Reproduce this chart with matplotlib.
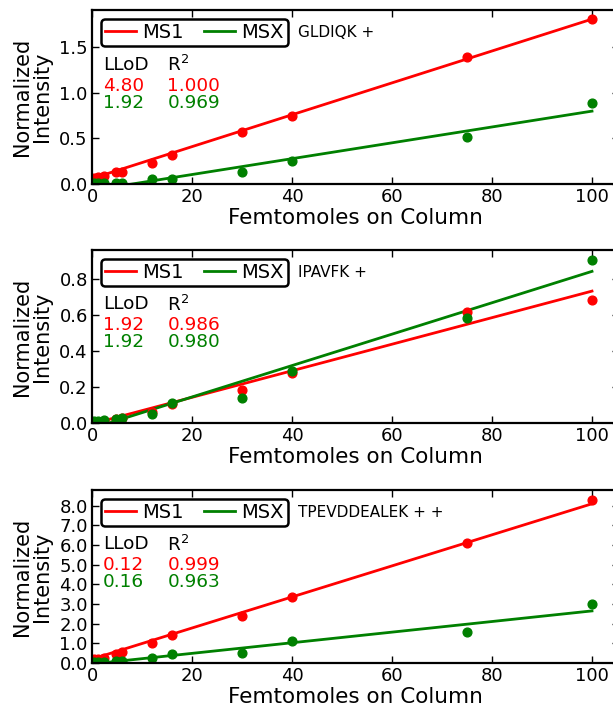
import matplotlib
matplotlib.use("Agg")
import matplotlib.pyplot as plt
import numpy as np

# ---- data ----
femtomoles = [0.48, 1.2, 2.4, 4.8, 6.0, 12, 16, 30, 40, 75, 100]

peptides = ["GLDIQK +", "IPAVFK +", "TPEVDDEALEK + +"]

ms1_gldiqk = [0.07, 0.075, 0.085, 0.13, 0.13, 0.23, 0.32, 0.57, 0.75, 1.39, 1.81]
msx_gldiqk = [0.01, 0.01, 0.01, 0.015, 0.015, 0.055, 0.05, 0.13, 0.25, 0.52, 0.89]

ms1_ipavfk = [0.005, 0.008, 0.012, 0.02, 0.03, 0.06, 0.105, 0.185, 0.28, 0.62, 0.685]
msx_ipavfk = [0.01, 0.01, 0.015, 0.02, 0.03, 0.05, 0.11, 0.14, 0.29, 0.585, 0.91]

ms1_tpev = [0.2, 0.22, 0.27, 0.45, 0.55, 1.0, 1.42, 2.4, 3.37, 6.08, 8.3]
msx_tpev = [0.05, 0.05, 0.06, 0.1, 0.12, 0.25, 0.45, 0.5, 1.12, 1.6, 3.0]

# linear fits: (slope, intercept)
fit_ms1 = [(0.0175, 0.06), (0.0074, -0.005), (0.079, 0.2)]
fit_msx = [(0.0087, -0.07), (0.00875, -0.03), (0.027, -0.05)]

lllod_ms1 = ["4.80", "1.92", "0.12"]
lllod_msx = ["1.92", "1.92", "0.16"]
r2_ms1 = ["1.000", "0.986", "0.999"]
r2_msx = ["0.969", "0.980", "0.963"]

ylims = [1.91, 0.964, 8.8]
yticks = [[0.0, 0.5, 1.0, 1.5],
          [0.0, 0.2, 0.4, 0.6, 0.8],
          [0.0, 1.0, 2.0, 3.0, 4.0, 5.0, 6.0, 7.0, 8.0]]
xticks = [0, 20, 40, 60, 80, 100]

ms1_series = [ms1_gldiqk, ms1_ipavfk, ms1_tpev]
msx_series = [msx_gldiqk, msx_ipavfk, msx_tpev]

RED = "#ff0000"
GREEN = "#008000"

W, H = 613, 707
fig = plt.figure(figsize=(W / 100, H / 100), dpi=100)

left = 92 / W
xmax = 105.4
right_px = 92 + 5 * xmax
width = (right_px - 92) / W
tops = [10, 250, 490]
bottoms = [184, 423, 663]

tfs = 13      # tick labels
afs = 13.3    # annotation
lfs = 14      # legend
for i in range(3):
    ax = fig.add_axes([left, 1 - bottoms[i] / H, width, (bottoms[i] - tops[i]) / H])
    x = np.array(femtomoles)
    xl = np.array([0, 100])
    s, b = fit_ms1[i]
    l1, = ax.plot(xl, s * xl + b, color=RED, lw=2, label="MS1")
    s, b = fit_msx[i]
    l2, = ax.plot(xl, s * xl + b, color=GREEN, lw=2, label="MSX")
    ax.plot(x, ms1_series[i], "o", color=RED, mec=RED, ms=6.3)
    ax.plot(x, msx_series[i], "o", color=GREEN, mec=GREEN, ms=6.3)

    ax.set_xlim(0, xmax)
    ax.set_ylim(0, ylims[i])
    ax.set_xticks(xticks)
    ax.set_xticklabels([str(t) for t in xticks])
    ax.set_yticks(yticks[i])
    ax.set_yticklabels(["%.1f" % t for t in yticks[i]])
    ax.tick_params(direction="in", top=True, right=True, length=5, width=1,
                   labelsize=tfs, pad=3)
    for sp in ax.spines.values():
        sp.set_linewidth(1.6)

    ax.set_xlabel("Femtomoles on Column", fontsize=15.5, labelpad=1)
    ax.set_ylabel("Normalized\nIntensity", fontsize=15, labelpad=5, linespacing=1.0)

    leg = ax.legend(handles=[l1, l2], loc="upper left", ncol=2, fontsize=lfs,
                    frameon=True, fancybox=True, handlelength=1.6,
                    borderaxespad=0.45, borderpad=0.2, columnspacing=1.0,
                    handletextpad=0.35)
    fr = leg.get_frame()
    fr.set_edgecolor("black")
    fr.set_linewidth(1.8)
    fr.set_alpha(1)

    ax.text(0.39, 0.868, peptides[i], transform=ax.transAxes, fontsize=11,
            va="center", ha="left")
    ax.text(0.021, 0.685, "LLoD", transform=ax.transAxes, fontsize=afs,
            va="center", ha="left")
    ax.text(0.143, 0.685, "R$^2$", transform=ax.transAxes, fontsize=afs,
            va="center", ha="left")
    ax.text(0.021, 0.565, lllod_ms1[i], transform=ax.transAxes, fontsize=afs,
            va="center", ha="left", color=RED)
    ax.text(0.143, 0.565, r2_ms1[i], transform=ax.transAxes, fontsize=afs,
            va="center", ha="left", color=RED)
    ax.text(0.021, 0.466, lllod_msx[i], transform=ax.transAxes, fontsize=afs,
            va="center", ha="left", color=GREEN)
    ax.text(0.143, 0.466, r2_msx[i], transform=ax.transAxes, fontsize=afs,
            va="center", ha="left", color=GREEN)

fig.savefig("out.png", dpi=100)
